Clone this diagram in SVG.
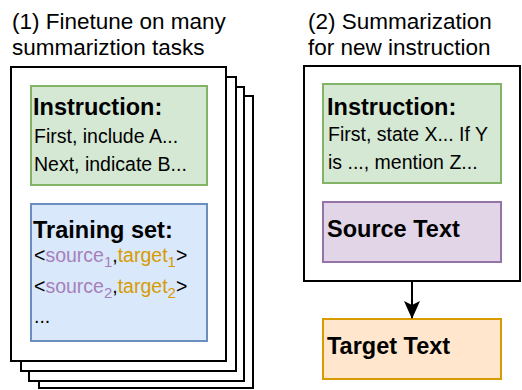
<svg xmlns="http://www.w3.org/2000/svg" width="522" height="390" viewBox="0 0 522 390">
  <style>
    text { font-family: "Liberation Sans", Arial, sans-serif; fill: #000; }
    .title { font-size: 22.5px; }
    .head { font-size: 23.5px; font-weight: bold; }
    .body { font-size: 19.5px; }
    .sub { font-size: 15px; }
    .page { fill: #fff; stroke: #000; stroke-width: 2; }
    .green { fill: #d5e8d4; stroke: #82b366; stroke-width: 2; }
    .blue { fill: #dae8fc; stroke: #6c8ebf; stroke-width: 2; }
    .purple { fill: #e1d5e7; stroke: #9673a6; stroke-width: 2; }
    .orange { fill: #ffe6cc; stroke: #d79b00; stroke-width: 2; }
    .src { fill: #a680b8; }
    .tgt { fill: #d79b00; }
  </style>
  <defs>
    <marker id="arrow" viewBox="0 0 18 16" refX="17" refY="8" markerWidth="18" markerHeight="16" markerUnits="userSpaceOnUse" orient="auto">
      <path d="M0,0 L18,8 L0,16 L4,8 Z" fill="#000"/>
    </marker>
  </defs>

  <!-- Column titles -->
  <g id="title-finetune">
    <text class="title" x="12" y="29">(1) Finetune on many</text>
    <text class="title" x="12" y="55">summariztion tasks</text>
  </g>
  <g id="title-summarize">
    <text class="title" x="308" y="29">(2) Summarization</text>
    <text class="title" x="308" y="55">for new instruction</text>
  </g>

  <!-- Stack of task pages, back to front -->
  <g id="task-stack">
    <rect class="page" x="39" y="96" width="214" height="292"/>
    <rect class="page" x="29" y="87" width="215" height="294"/>
    <rect class="page" x="21" y="77" width="215" height="294"/>
    <rect class="page" x="11" y="67" width="215" height="294"/>
  </g>

  <g id="train-instruction">
    <rect class="green" x="31" y="86" width="176" height="99"/>
    <text class="head" x="33" y="115">Instruction:</text>
    <text class="body" x="34" y="143">First, include A...</text>
    <text class="body" x="34" y="171">Next, indicate B...</text>
  </g>

  <g id="training-set">
    <rect class="blue" x="31" y="204" width="176" height="137"/>
    <text class="head" x="33" y="238">Training set:</text>
    <text class="body" x="34" y="261.5">&lt;<tspan class="src">source<tspan class="sub" dy="5">1</tspan></tspan><tspan dy="-5">,</tspan><tspan class="tgt">target<tspan class="sub" dy="5">1</tspan></tspan><tspan dy="-5">&gt;</tspan></text>
    <text class="body" x="34" y="292.5">&lt;<tspan class="src">source<tspan class="sub" dy="5">2</tspan></tspan><tspan dy="-5">,</tspan><tspan class="tgt">target<tspan class="sub" dy="5">2</tspan></tspan><tspan dy="-5">&gt;</tspan></text>
    <text class="body" x="34" y="323">...</text>
  </g>

  <!-- Inference input -->
  <g id="input-frame">
    <rect class="page" x="304" y="66" width="216" height="215"/>
  </g>

  <g id="new-instruction">
    <rect class="green" x="323" y="84" width="178" height="99"/>
    <text class="head" x="327" y="115">Instruction:</text>
    <text class="body" x="328" y="141">First, state X... If Y</text>
    <text class="body" x="328" y="169">is ..., mention Z...</text>
  </g>

  <g id="source-text">
    <rect class="purple" x="323" y="202" width="178" height="60"/>
    <text class="head" x="327" y="237">Source Text</text>
  </g>

  <g id="target-text">
    <rect class="orange" x="323" y="319" width="178" height="60"/>
    <text class="head" x="327" y="354">Target Text</text>
  </g>

  <g id="connectors">
    <line x1="412" y1="281" x2="412" y2="318" stroke="#000" stroke-width="2" marker-end="url(#arrow)"/>
  </g>
</svg>
